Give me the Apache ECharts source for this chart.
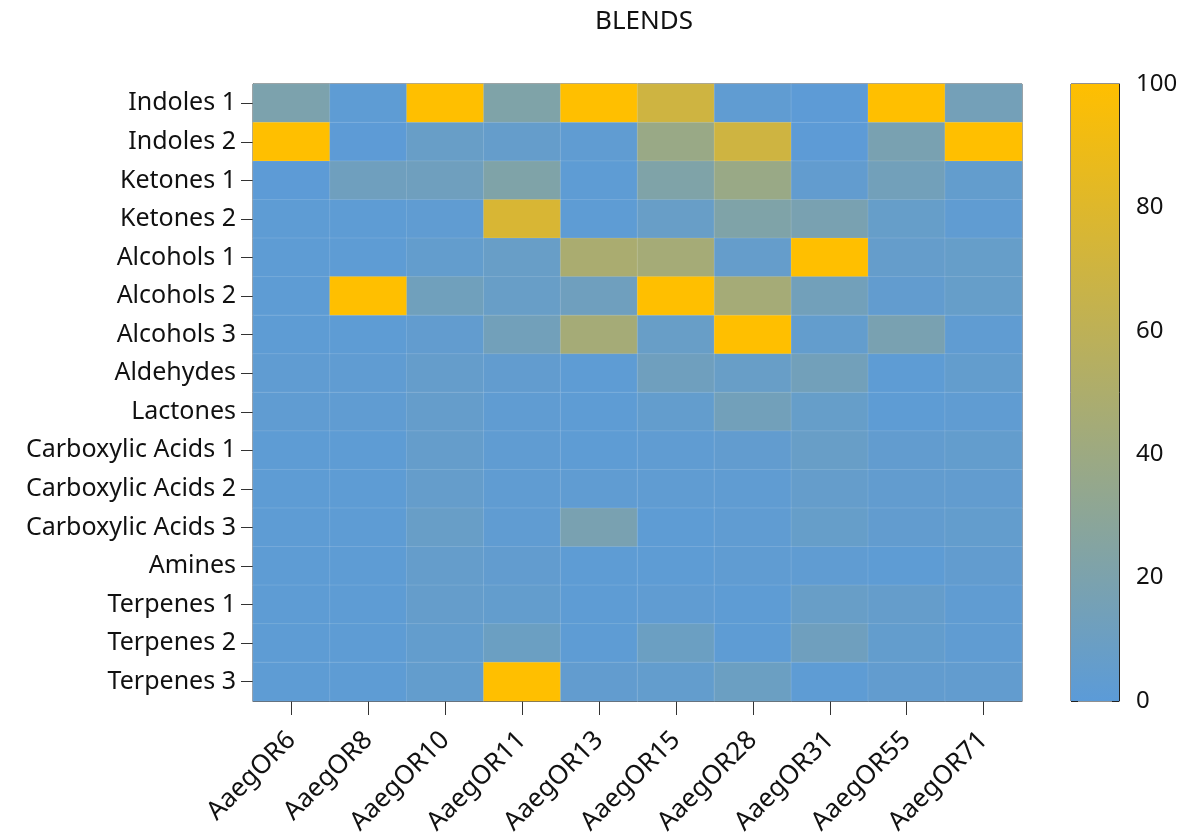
<!DOCTYPE html>
<html>
<head>
<meta charset="utf-8">
<script src="https://cdn.jsdelivr.net/npm/echarts@6/dist/echarts.min.js"></script>
<style>html,body{margin:0;padding:0;background:#fff;}#c{width:1198px;height:837px;}</style>
</head>
<body>
<div id="c"></div>
<script>
const receptors = ['AaegOR6','AaegOR8','AaegOR10','AaegOR11','AaegOR13','AaegOR15','AaegOR28','AaegOR31','AaegOR55','AaegOR71'];
const blends = ['Indoles 1','Indoles 2','Ketones 1','Ketones 2','Alcohols 1','Alcohols 2','Alcohols 3','Aldehydes','Lactones','Carboxylic Acids 1','Carboxylic Acids 2','Carboxylic Acids 3','Amines','Terpenes 1','Terpenes 2','Terpenes 3'];
const indoles1 = [20, 2, 100, 22, 100, 70, 3, 1, 100, 15];
const indoles2 = [100, 1, 8, 6, 3, 38, 70, 1, 18, 100];
const ketones1 = [1, 12, 12, 22, 2, 22, 38, 4, 14, 5];
const ketones2 = [2, 2, 3, 76, 2, 8, 22, 18, 7, 3];
const alcohols1 = [2, 2, 5, 8, 48, 45, 6, 100, 6, 7];
const alcohols2 = [2, 100, 13, 8, 12, 100, 45, 14, 4, 7];
const alcohols3 = [2, 2, 4, 14, 45, 8, 100, 5, 18, 3];
const aldehydes = [3, 3, 6, 4, 2, 12, 8, 14, 2, 5];
const lactones = [3, 3, 6, 3, 2, 5, 14, 7, 2, 3];
const carboxylic1 = [2, 2, 6, 3, 2, 3, 4, 8, 4, 5];
const carboxylic2 = [2, 2, 6, 3, 3, 3, 3, 6, 4, 4];
const carboxylic3 = [2, 2, 8, 3, 18, 2, 3, 7, 4, 5];
const amines = [2, 2, 6, 4, 2, 2, 3, 3, 2, 4];
const terpenes1 = [2, 2, 6, 5, 2, 3, 2, 8, 6, 3];
const terpenes2 = [2, 2, 5, 10, 2, 10, 2, 12, 5, 3];
const terpenes3 = [2, 2, 5, 100, 4, 5, 10, 2, 4, 4];
const colorbarTicks = [0, 20, 40, 60, 80, 100];

const rows = [indoles1, indoles2, ketones1, ketones2, alcohols1, alcohols2, alcohols3, aldehydes, lactones, carboxylic1, carboxylic2, carboxylic3, amines, terpenes1, terpenes2, terpenes3];
const cells = [];
rows.forEach((r, yi) => r.forEach((v, xi) => cells.push([xi, yi, v])));

const FONT = 'Noto Sans';
const LOW = '#5b9bd8', HIGH = '#ffbf00';

const chart = echarts.init(document.getElementById('c'));
chart.setOption({
  animation: false,
  textStyle: { fontFamily: FONT },
  title: { text: 'BLENDS', left: 639, top: 4, textAlign: 'center',
    textStyle: { fontFamily: FONT, fontSize: 26, fontWeight: 'normal', color: '#111' } },
  grid: [
    { left: 253, top: 84, width: 769, height: 617, show: true, borderColor: '#333', borderWidth: 1,
      backgroundColor: 'transparent', containLabel: false, outerBoundsMode: 'none' },
    { left: 1071, top: 84, width: 48, height: 617, show: true, borderColor: '#222', borderWidth: 1,
      containLabel: false, outerBoundsMode: 'none' }
  ],
  xAxis: [
    { type: 'category', gridIndex: 0, data: receptors, position: 'bottom',
      axisLine: { show: true, lineStyle: { color: '#555' } },
      axisTick: { show: true, alignWithLabel: true, length: 14, lineStyle: { color: '#333' } },
      axisLabel: { rotate: 45, fontSize: 26, color: '#111', margin: 35, interval: 0 },
      splitLine: { show: false } },
    { type: 'category', gridIndex: 1, data: ['scale'], show: false }
  ],
  yAxis: [
    { type: 'category', gridIndex: 0, data: blends, inverse: true,
      axisLine: { show: true, lineStyle: { color: '#555' } },
      axisTick: { show: true, alignWithLabel: true, length: 12, lineStyle: { color: '#333' } },
      axisLabel: { fontSize: 25, color: '#111', margin: 17, interval: 0 },
      splitLine: { show: false } },
    { type: 'value', gridIndex: 1, min: 0, max: 100, interval: 20, position: 'right',
      axisLine: { show: true, lineStyle: { color: '#222' } },
      axisTick: { show: true, inside: true, length: 7, lineStyle: { color: '#222' } },
      axisLabel: { fontSize: 24, color: '#111', margin: 17,
        customValues: colorbarTicks },
      splitLine: { show: false } },
    { type: 'value', gridIndex: 1, min: 0, max: 100, interval: 20, position: 'left',
      axisLine: { show: false },
      axisTick: { show: true, inside: true, length: 7, lineStyle: { color: '#222' } },
      axisLabel: { show: false }, splitLine: { show: false } }
  ],
  visualMap: {
    show: false, type: 'continuous', min: 0, max: 100, seriesIndex: 0, dimension: 2,
    inRange: { color: [LOW, HIGH] }
  },
  series: [
    { type: 'heatmap', xAxisIndex: 0, yAxisIndex: 0, data: cells,
      itemStyle: { borderColor: 'rgba(255,255,255,0.12)', borderWidth: 1 },
      emphasis: { disabled: true } },
    { type: 'bar', xAxisIndex: 1, yAxisIndex: 1, data: [colorbarTicks[colorbarTicks.length - 1]],
      barWidth: '100%', silent: true, z: 1,
      itemStyle: { color: new echarts.graphic.LinearGradient(0, 1, 0, 0, [
        { offset: 0, color: LOW }, { offset: 1, color: HIGH }]) } }
  ]
});
</script>
</body>
</html>
